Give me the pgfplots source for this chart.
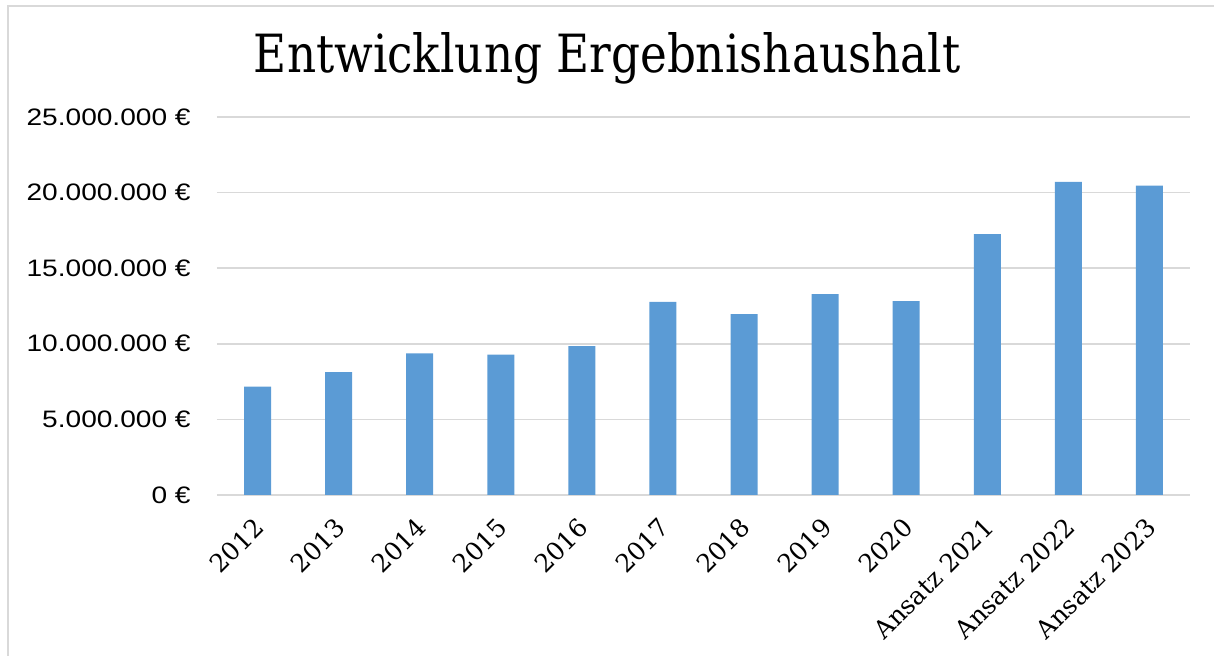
\documentclass[border=0pt]{standalone}
\usepackage{fontspec}
\setmainfont[FakeStretch=1.18]{Liberation Sans}
\newfontfamily\titlefont{DejaVu Serif Condensed}
\newfontfamily\labelfont{DejaVu Serif}
\usepackage{pgfplots}
\pgfplotsset{compat=1.18}
\definecolor{barblue}{HTML}{5B9BD5}
\definecolor{gridgray}{HTML}{D9D9D9}

\begin{document}
\begin{tikzpicture}
\begin{axis}[
    name=ax, at={(0,0)}, anchor=south west,
    scale only axis, width=486.5pt, height=189pt,
    ybar, bar width=13.5pt,
    xmin=-0.5, xmax=11.5, ymin=0, ymax=25000000,
    xtick=data,
    xticklabels={2012,2013,2014,2015,2016,2017,2018,2019,2020,Ansatz 2021,Ansatz 2022,Ansatz 2023},
    ytick={0,5000000,10000000,15000000,20000000,25000000},
    scaled y ticks=false,
    yticklabel={\pgfmathprintnumber[fixed,1000 sep={.},assume math mode=true]{\tick}~€},
    major tick length=0pt,
    axis line style={draw=none},
    ymajorgrids, major grid style={gridgray, line width=0.75pt},
    tick label style={text=black},
    yticklabel style={font=\fontsize{11.9}{14}\selectfont, anchor=east, inner sep=0pt, xshift=-13pt},
    xticklabel style={font=\labelfont\fontsize{12.5}{14}\selectfont, inner sep=0pt, xshift=1pt, yshift=-14pt, rotate=45, anchor=east},
]
\addplot[fill=barblue, draw=none] coordinates {
    (0,7170000) (1,8130000) (2,9360000) (3,9290000) (4,9850000) (5,12780000)
    (6,11970000) (7,13290000) (8,12830000) (9,17260000) (10,20710000) (11,20460000)
};
\end{axis}
\path[use as bounding box] ([xshift=-108.5pt,yshift=-80.5pt]ax.south west) rectangle ([xshift=12pt,yshift=58.5pt]ax.north east);
\draw[gridgray, line width=0.75pt] ([xshift=-104.5pt,yshift=-100pt]ax.south west) rectangle ([xshift=20pt,yshift=55.5pt]ax.north east);
\node[anchor=base, inner sep=0pt] at ([xshift=195pt,yshift=22pt]ax.north west)
    {\resizebox{353pt}{20pt}{\titlefont Entwicklung Ergebnishaushalt}};
\end{tikzpicture}
\end{document}
